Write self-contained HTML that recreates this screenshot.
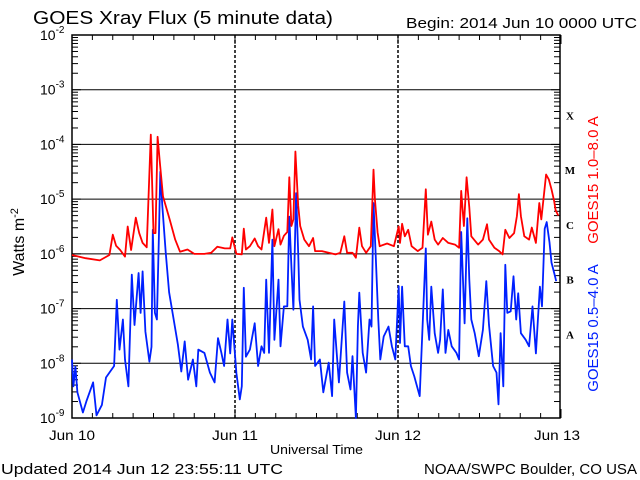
<!DOCTYPE html>
<html><head><meta charset="utf-8"><style>
body{margin:0;background:#fff;}
svg{display:block;font-family:"Liberation Sans",sans-serif;}
</style></head><body>
<svg id="chart" width="640" height="480" xmlns="http://www.w3.org/2000/svg">
<rect width="640" height="480" fill="#fff"/>
<text x="33" y="24" font-size="18" textLength="300" lengthAdjust="spacingAndGlyphs">GOES Xray Flux (5 minute data)</text>
<text x="406" y="28" font-size="15" textLength="231" lengthAdjust="spacingAndGlyphs">Begin:  2014 Jun 10 0000 UTC</text>
<g id="grid"></g>
<g id="axes"></g>
<g id="series"></g>
<text transform="translate(24,242) rotate(-90)" text-anchor="middle" font-size="16">Watts m<tspan dy="-6" font-size="11">-2</tspan></text>
<text x="270" y="454" font-size="13" textLength="93" lengthAdjust="spacingAndGlyphs">Universal Time</text>
<text transform="translate(598,180) rotate(-90)" text-anchor="middle" font-size="15" fill="#ff0000">GOES15 1.0–8.0 A</text>
<text transform="translate(598,328) rotate(-90)" text-anchor="middle" font-size="15" fill="#0020ff">GOES15 0.5–4.0 A</text>
<text x="1" y="474" font-size="15" textLength="282" lengthAdjust="spacingAndGlyphs">Updated 2014 Jun 12 23:55:11 UTC</text>
<text x="424" y="474" font-size="15" textLength="213" lengthAdjust="spacingAndGlyphs">NOAA/SWPC Boulder, CO USA</text>
</svg>
<script>
const dayLabels = ["Jun 10","Jun 11","Jun 12","Jun 13"];
const decades = [-2,-3,-4,-5,-6,-7,-8,-9];
const classLabels = ["X","M","C","B","A"];
const classLevels = [-4,-5,-6,-7,-8];
const redHours = [0,2,4.1,5.5,6.0,6.5,7.1,7.8,8.2,8.7,9.4,9.9,10.4,11.0,11.6,12.0,12.3,12.6,12.9,13.4,14.4,15.2,15.9,17,18,19.5,20.5,21.4,22.5,23.3,23.6,24.2,25.0,25.3,25.6,26.2,26.9,27.4,27.9,28.6,29.0,29.5,29.8,30.4,30.7,31.2,31.7,32.0,32.3,32.6,32.9,33.3,33.6,34.2,34.9,35.5,35.8,36.8,37.8,38.8,39.5,40.1,40.5,41.3,41.8,42.3,42.7,43.3,44.0,44.4,44.6,45.0,45.3,46.4,47.4,48.1,48.3,48.6,49.0,49.5,50.0,50.9,51.6,52.1,52.4,52.9,53.4,53.9,54.6,55.4,56.4,57.0,57.3,57.7,58.1,58.5,58.8,59.8,60.5,61.1,61.4,62.2,62.9,63.4,63.8,64.4,65.1,65.5,65.8,66.1,66.6,67.3,67.7,68.3,68.8,69.1,69.5,69.8,70.2,70.6,71.0,71.2,71.6];
const redLog = [-6.02,-6.08,-6.12,-6.02,-5.65,-5.85,-5.93,-6.05,-5.5,-5.93,-5.34,-5.62,-5.8,-5.88,-3.82,-5.62,-5.62,-3.86,-4.28,-4.95,-5.38,-5.74,-5.96,-5.92,-6.0,-6.0,-5.98,-5.87,-5.9,-5.9,-5.7,-6.0,-6.01,-5.54,-5.92,-5.86,-5.72,-5.86,-5.92,-5.34,-5.8,-5.19,-5.86,-5.55,-5.83,-5.67,-5.6,-4.6,-5.49,-5.37,-4.13,-5.12,-5.49,-5.74,-5.86,-5.71,-5.95,-5.95,-5.98,-6.01,-5.98,-5.68,-5.98,-5.98,-6.07,-5.52,-5.86,-5.98,-5.86,-4.46,-5.0,-5.61,-5.86,-5.81,-5.86,-5.5,-5.8,-5.45,-5.68,-5.56,-5.86,-5.95,-5.89,-4.82,-5.65,-5.41,-5.74,-5.83,-5.71,-5.8,-5.83,-5.89,-4.85,-5.49,-4.6,-5.15,-5.68,-5.83,-5.74,-5.46,-5.74,-5.89,-5.95,-6.01,-5.56,-5.71,-5.62,-5.31,-4.91,-5.31,-5.68,-5.74,-5.52,-5.8,-5.07,-5.37,-4.91,-4.55,-4.64,-4.82,-5.04,-5.2,-5.3];
const blueHours = [0,0.2,0.5,0.8,1.6,2.1,3.1,3.6,4.4,5.0,5.5,6.2,6.6,7.0,7.5,7.8,8.3,8.8,9.2,9.8,10.1,10.4,10.8,11.4,11.7,11.9,12.2,12.5,12.8,13.0,13.3,13.8,14.3,15.1,15.6,16.1,16.6,17.1,17.8,18.3,18.6,19.5,20.3,21.0,21.5,22.0,22.4,22.9,23.3,23.6,24.2,24.7,25.0,25.3,25.6,26.2,26.9,27.4,27.9,28.3,28.6,29.0,29.5,29.8,30.4,30.7,31.2,31.7,32.0,32.3,32.6,33.0,33.3,33.5,34.0,34.7,35.2,35.5,35.8,36.5,37.0,37.8,38.3,38.6,39.3,40.1,40.5,41.0,41.3,41.8,42.1,42.3,42.8,43.3,43.8,44.1,44.4,44.7,45.1,45.4,45.9,46.6,47.1,47.6,48.1,48.3,48.6,49.0,49.5,49.9,50.4,51.2,51.6,52.1,52.3,52.6,52.9,53.4,53.9,54.2,54.6,55.0,55.4,55.9,56.6,57.0,57.3,57.8,58.2,58.5,58.8,59.3,59.9,60.5,61.0,61.4,62.0,62.5,62.8,63.1,63.5,63.8,64.1,64.6,65.0,65.4,65.7,66.1,66.8,67.3,67.8,68.3,68.6,68.9,69.2,69.6,69.9,70.3,70.6,71.0,71.3];
const blueLog = [-7.93,-8.42,-8.06,-8.53,-8.9,-8.7,-8.35,-8.95,-8.76,-8.26,-8.17,-8.05,-6.84,-7.75,-7.2,-7.93,-8.42,-6.38,-7.3,-6.35,-7.08,-6.32,-7.42,-7.97,-7.7,-5.56,-7.08,-7.2,-5.68,-4.5,-5.12,-5.97,-6.7,-7.3,-7.66,-8.15,-7.6,-8.3,-7.93,-8.42,-7.75,-7.81,-8.17,-8.35,-7.54,-7.81,-8.05,-7.2,-7.82,-7.2,-8.18,-8.66,-8.42,-6.62,-7.88,-7.75,-7.27,-8.05,-7.69,-7.81,-6.47,-7.81,-5.74,-7.57,-6.47,-7.69,-6.96,-6.96,-5.32,-6.23,-7.02,-4.89,-5.98,-6.84,-7.33,-7.57,-7.93,-6.96,-8.05,-7.93,-8.53,-7.99,-8.6,-7.2,-8.35,-6.87,-8.17,-8.48,-7.87,-9.0,-7.33,-6.71,-7.81,-8.17,-7.2,-7.33,-5.07,-5.98,-7.2,-7.93,-7.51,-7.33,-7.69,-7.93,-6.59,-7.63,-6.6,-7.69,-7.69,-8.05,-8.24,-8.6,-7.36,-5.9,-7.2,-7.57,-6.6,-7.45,-7.81,-7.57,-6.65,-7.81,-7.39,-7.69,-7.81,-7.93,-5.6,-7.27,-5.35,-6.47,-7.2,-7.45,-7.87,-7.39,-6.5,-7.3,-8.05,-8.17,-8.75,-7.45,-8.42,-6.2,-7.08,-7.05,-6.41,-7.2,-6.72,-7.45,-7.57,-7.69,-6.96,-7.82,-7.2,-6.6,-6.96,-5.54,-5.42,-5.79,-6.16,-6.35,-6.5];

const NS='http://www.w3.org/2000/svg';
const L=72,R=560,T=35,B=418;
const xS=h=>L+h*(R-L+1)/72;
const yS=v=>T+(-2-v)*(B-T)/7;
function mk(tag,attrs,parent){const e=document.createElementNS(NS,tag);for(const k in attrs)e.setAttribute(k,attrs[k]);parent.appendChild(e);return e;}
const grid=document.getElementById('grid'),axes=document.getElementById('axes'),ser=document.getElementById('series');

decades.forEach(d=>{
  const y=yS(d);
  if(d>-9&&d<-2){const ln=mk('line',{x1:L,x2:R,y1:y,y2:y,stroke:'#000','stroke-width':1},grid);
  
  }
  const t=mk('text',{x:40,y:y+5,'font-size':14},axes);
  
  
  t.textContent='10';
  const s=mk('tspan',{dy:-7,'font-size':10},t);s.textContent=String(d);
  for(let m=2;m<=9;m++){if(d<=-9)break;const yy=yS(d-1+Math.log10(m));
    mk('line',{x1:L,x2:L+6,y1:yy,y2:yy,stroke:'#000'},axes);
    mk('line',{x1:R-6,x2:R,y1:yy,y2:yy,stroke:'#000'},axes);}
  mk('line',{x1:L,x2:L+9,y1:y,y2:y,stroke:'#000'},axes);
  mk('line',{x1:R-9,x2:R,y1:y,y2:y,stroke:'#000'},axes);
});
for(let h=0;h<=72;h+=3){const x=xS(h);const len=h%24===0?9:5;
  mk('line',{x1:x,x2:x,y1:B,y2:B-len,stroke:'#000'},axes);
  mk('line',{x1:x,x2:x,y1:T,y2:T+len,stroke:'#000'},axes);}
dayLabels.forEach((lab,i)=>{const x=Math.min(xS(i*24),557);
  if(i>0&&i<3){const dl=mk('line',{x1:x,x2:x,y1:T,y2:B,stroke:'#000','stroke-width':1.5,'stroke-dasharray':'3,2'},grid);
    
    }
  const t=mk('text',{x:x-23,y:440,'font-size':14,textLength:46,lengthAdjust:'spacingAndGlyphs'},axes);
  
  
  t.textContent=lab;});
classLabels.forEach((c,i)=>{const t=mk('text',{x:570,y:yS(classLevels[i])-25,'text-anchor':'middle','font-size':11,'font-weight':'bold','font-family':'Liberation Serif, serif'},axes);
  
  
  t.textContent=c;});
const box=mk('rect',{x:L,y:T,width:R-L,height:B-T,fill:'none',stroke:'#000','stroke-width':1.5},axes);


function line(hs,vs,color,name){const pts=hs.map((h,i)=>xS(h).toFixed(1)+','+yS(vs[i]).toFixed(1)).join(' ');
  const p=mk('polyline',{points:pts,fill:'none',stroke:color,'stroke-width':1.8,'stroke-linejoin':'round'},ser);
  
  }
line(blueHours,blueLog,'#0020ff','short-wavelength-series');
line(redHours,redLog,'#ff0000','long-wavelength-series');
</script>
</body></html>
